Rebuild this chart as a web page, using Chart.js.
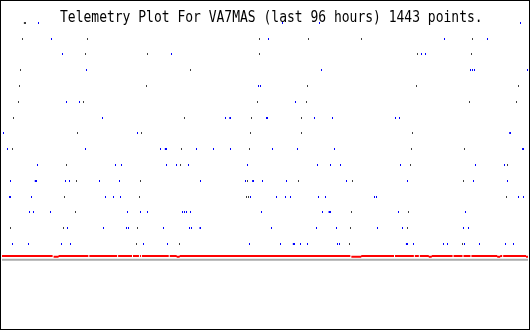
<!DOCTYPE html>
<html>
<head>
<meta charset="utf-8">
<title>Telemetry Plot For VA7MAS</title>
<script src="https://cdn.jsdelivr.net/npm/chart.js@4/dist/chart.umd.min.js"></script>
<style>
  html, body { margin: 0; padding: 0; background: #fff; }
</style>
</head>
<body>
<canvas id="telem" width="530" height="330"></canvas>
<script>
/* Telemetry plot: one dot per sample, x = time slot (0..529), y = level (0..14) */

const plotTitle = 'Telemetry Plot For VA7MAS (last 96 hours) 1443 points.';

// [time slot, level]
const blueDots = [
  [36,14],[282,14],[319,14],[522,14],
  [49,13],[268,13],[445,13],[489,13],
  [60,12],[170,12],[422,12],[426,12],
  [85,11],[321,11],[472,11],[474,11],[476,11],[529,11],
  [258,10],[260,10],
  [64,9],[78,9],[295,9],
  [101,8],[225,8],[314,8],[333,8],[396,8],[400,8],
  [1,7],[136,7],
  [5,6],[84,6],[159,6],[195,6],[213,6],[230,6],[272,6],[297,6],[335,6],
  [35,5],[114,5],[120,5],[165,5],[175,5],[187,5],[247,5],[317,5],[330,5],[341,5],[401,5],[477,5],[506,5],
  [8,4],[63,4],[68,4],[98,4],[118,4],[200,4],[245,4],[262,4],[286,4],[347,4],[408,4],[475,4],[509,4],
  [29,3],[104,3],[112,3],[119,3],[250,3],[276,3],[285,3],[290,3],[318,3],[325,3],[375,3],[377,3],[520,3],[525,3],
  [27,2],[31,2],[48,2],[126,2],[139,2],[146,2],[181,2],[183,2],[185,2],[189,2],[261,2],[322,2],[399,2],[467,2],
  [66,1],[102,1],[125,1],[127,1],[162,1],[188,1],[190,1],[271,1],[316,1],[337,1],[378,1],[403,1],[465,1],[470,1],
  [10,0],[26,0],[59,0],[69,0],[142,0],[166,0],[249,0],[280,0],[300,0],[307,0],[338,0],[340,0],[414,0],[444,0],[448,0],[466,0],[481,0],[507,0],[515,0]
];

// doubled samples (drawn as 2px blocks)
const blueBlocks = [
  [229,8],[266,8],[511,7],[164,6],[524,6],[33,4],[252,4],[7,3],[329,2],[199,1],[293,0],[407,0]
];

const grayDots = [
  [20,13],[86,13],[259,13],[308,13],[362,13],[474,13],
  [84,12],[146,12],[259,12],[418,12],[473,12],
  [18,11],[189,11],
  [17,10],[145,10],[307,10],[417,10],[520,10],
  [16,9],[82,9],[257,9],[306,9],[471,9],[518,9],
  [11,8],[183,8],[251,8],[301,8],
  [76,7],[140,7],[250,7],[301,7],[413,7],
  [10,6],[180,6],[249,6],[412,6],[466,6],
  [64,5],[179,5],[411,5],[509,5],
  [75,4],[139,4],[247,4],[298,4],[353,4],[465,4],
  [62,3],[138,3],[246,3],[248,3],[508,3],
  [74,2],[352,2],[409,2],
  [8,1],[61,1],[136,1],[351,1],[408,1],
  [135,0],[178,0],[350,0],[463,0]
];

const grayBlocks = [[22,14]];

// red trace: nominal level, dropped level, missing slots and dropped ranges
const redHigh = -0.75;
const redLow = -0.8125;
const redGaps = [51, 87, 116, 131, 138, 140, 168, 351, 395, 415, 420, 454, 464, 472, 504];
const redDips = [[52,56],[176,178],[352,361],[430,432],[499,501],[528,529]];

// gray base line
const baseLevel = -1;

function toPoints(list) {
  return list.map(p => ({x: p[0], y: p[1]}));
}

function redTrace() {
  const pts = [];
  let runStart = 0, runLevel = null;
  for (let x = 0; x <= 530; x++) {
    let lvl = null;
    if (x < 530 && !redGaps.includes(x)) {
      lvl = redDips.some(d => x >= d[0] && x <= d[1]) ? redLow : redHigh;
    }
    if (lvl !== runLevel) {
      if (runLevel !== null) {
        pts.push({x: runStart - 0.5, y: runLevel}, {x: x - 0.5, y: runLevel}, {x: x, y: null});
      }
      runStart = x;
      runLevel = lvl;
    }
  }
  return pts;
}

// tiny pixel markers
function marker(w, h, color, skip) {
  const c = document.createElement('canvas');
  c.width = w; c.height = h;
  const g = c.getContext('2d');
  g.fillStyle = color;
  g.fillRect(skip, 0, w - skip, h);
  return c;
}
const blueDot = marker(1, 2, '#0000ff', 0);
const grayDot = marker(1, 2, '#404040', 0);
const blueBlock = marker(3, 2, '#0000ff', 1);
const grayBlock = marker(3, 2, '#404040', 1);

const titlePlugin = {
  id: 'plotTitle',
  beforeDatasetsDraw(chart) {
    const ctx = chart.ctx;
    ctx.save();
    ctx.scale(1, 1.25);
    ctx.font = '13px "DejaVu Sans Mono", monospace';
    ctx.fillStyle = '#000';
    ctx.textBaseline = 'alphabetic';
    ctx.fillText(plotTitle, 60, 22 / 1.25);
    ctx.restore();
  }
};

const framePlugin = {
  id: 'frame',
  afterDraw(chart) {
    const ctx = chart.ctx;
    ctx.save();
    ctx.strokeStyle = '#000';
    ctx.lineWidth = 1;
    ctx.strokeRect(0.5, 0.5, 529, 329);
    ctx.restore();
  }
};

function dotSet(list, style) {
  return {
    type: 'scatter',
    data: toPoints(list),
    pointStyle: style,
    pointRadius: 1,
    pointHoverRadius: 1,
    showLine: false
  };
}

const ctx = document.getElementById('telem');
new Chart(ctx, {
  type: 'scatter',
  data: {
    datasets: [
      dotSet(blueDots, blueDot),
      dotSet(blueBlocks, blueBlock),
      dotSet(grayDots, grayDot),
      dotSet(grayBlocks, grayBlock),
      {
        type: 'line',
        data: redTrace(),
        borderColor: '#ff0000',
        borderWidth: 2,
        borderCapStyle: 'butt',
        pointRadius: 0,
        spanGaps: false,
        tension: 0
      },
      {
        type: 'line',
        data: [{x: -0.5, y: baseLevel}, {x: 529.5, y: baseLevel}],
        borderColor: '#aaaaaa',
        borderWidth: 2,
        borderCapStyle: 'butt',
        pointRadius: 0,
        tension: 0
      }
    ]
  },
  options: {
    responsive: false,
    animation: false,
    devicePixelRatio: 1,
    layout: { padding: 0 },
    scales: {
      x: { type: 'linear', min: -0.5, max: 529.5, display: false },
      y: { type: 'linear', min: -5.3125, max: 15.3125, display: false }
    },
    plugins: {
      legend: { display: false },
      tooltip: { enabled: false }
    },
    events: []
  },
  plugins: [titlePlugin, framePlugin]
});
</script>
</body>
</html>
